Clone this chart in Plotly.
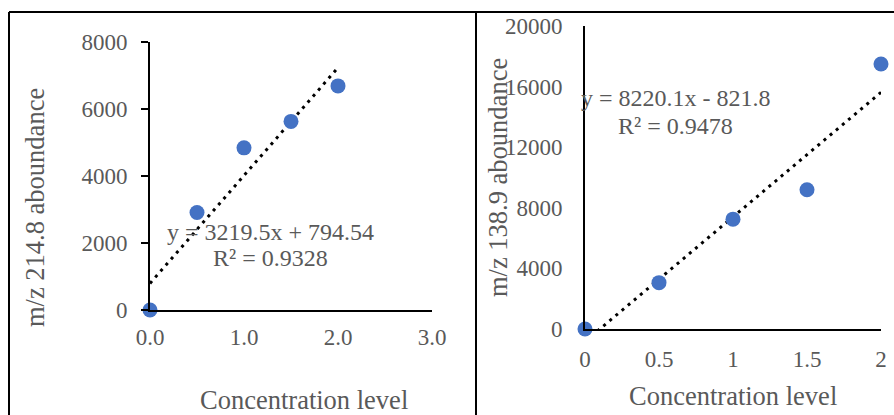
import numpy as np
import plotly.graph_objects as go

# ---- data ----
conc_left = [0.0, 0.5, 1.0, 1.5, 2.0]
abund_214 = [0, 2910, 4840, 5630, 6690]
conc_right = [0.0, 0.5, 1.0, 1.5, 2.0]
abund_138 = [0, 3060, 7250, 9190, 17490]

left_xticks = [0.0, 1.0, 2.0, 3.0]
left_xlabels = ["0.0", "1.0", "2.0", "3.0"]
left_yticks = [0, 2000, 4000, 6000, 8000]
left_ylabels = ["0", "2000", "4000", "6000", "8000"]
right_xticks = [0, 0.5, 1, 1.5, 2]
right_xlabels = ["0", "0.5", "1", "1.5", "2"]
right_yticks = [0, 4000, 8000, 12000, 16000, 20000]
right_ylabels = ["0", "4000", "8000", "12000", "16000", "20000"]

eq_left = ["y = 3219.5x + 794.54", "R² = 0.9328"]
eq_right = ["y = 8220.1x - 821.8", "R² = 0.9478"]
xtitle = "Concentration level"
ytitle_left = "m/z 214.8 aboundance"
ytitle_right = "m/z 138.9 aboundance"

W, H = 894, 415
FONT = "Liberation Serif"
GREY = "#595959"
BLUE = "#4472C4"


def px(x):
    return x / W


def py(y):
    return 1 - y / H


fig = go.Figure()

# trendlines (least squares fit of the data)
for xs, ys, xa, ya in [(conc_left, abund_214, "x", "y"), (conc_right, abund_138, "x2", "y2")]:
    m, b = np.polyfit(xs, ys, 1)
    tx = [min(xs), max(xs)]
    ty = [m * v + b for v in tx]
    fig.add_trace(go.Scatter(x=tx, y=ty, mode="lines", xaxis=xa, yaxis=ya,
                             line=dict(color="black", width=3, dash="3px,5px"),
                             showlegend=False, hoverinfo="skip"))
    fig.add_trace(go.Scatter(x=xs, y=ys, mode="markers", xaxis=xa, yaxis=ya,
                             marker=dict(color=BLUE, size=15), cliponaxis=False,
                             showlegend=False))


def tf():
    return dict(family=FONT, size=23, color=GREY)


common = dict(showgrid=False, zeroline=False, showline=True, linecolor="black",
              linewidth=2, automargin=False, tickmode="array")

fig.update_layout(
    template="none",
    font=dict(family=FONT, color=GREY),
    width=W, height=H, margin=dict(l=0, r=0, t=0, b=0, autoexpand=False),
    paper_bgcolor="white", plot_bgcolor="white",
    xaxis=dict(domain=[px(150), px(432)], range=[0, 3], tickvals=left_xticks,
               ticktext=left_xlabels, anchor="y", ticks="", ticklabelstandoff=5,
               tickfont=tf(), **common),
    yaxis=dict(domain=[py(310), py(42)], range=[0, 8000], tickvals=left_yticks,
               ticktext=left_ylabels, tickfont=tf(),
               anchor="x", ticks="outside", ticklen=7, tickwidth=2, tickcolor="black",
               ticklabelstandoff=9, **common),
    xaxis2=dict(domain=[px(585), px(881)], range=[0, 2], tickvals=right_xticks,
                ticktext=right_xlabels, anchor="y2", ticks="", ticklabelstandoff=8,
                tickfont=tf(), **common),
    yaxis2=dict(domain=[py(329), py(26)], range=[0, 20000], tickvals=right_yticks,
                ticktext=right_ylabels, anchor="x2", ticks="", ticklabelstandoff=16,
                tickfont=tf(), **common),
)

eq_font = dict(family=FONT, size=24, color=GREY)
title_font = dict(family=FONT, size=26.5, color=GREY)
annots = [
    dict(text=eq_left[0], x=px(270), y=py(232), font=eq_font),
    dict(text=eq_left[1], x=px(270), y=py(258), font=eq_font),
    dict(text=eq_right[0], x=px(676), y=py(98), font=eq_font),
    dict(text=eq_right[1], x=px(675), y=py(126), font=eq_font),
    dict(text=xtitle, x=px(304), y=py(400), font=title_font),
    dict(text=xtitle, x=px(733), y=py(396), font=title_font),
    dict(text=ytitle_left, x=px(35), y=py(208), textangle=-90, font=title_font),
    dict(text=ytitle_right, x=px(498), y=py(178), textangle=-90, font=title_font),
]
for a in annots:
    fig.add_annotation(xref="paper", yref="paper", showarrow=False,
                       xanchor="center", yanchor="middle", **a)

# outer frame lines
frame = dict(type="line", xref="paper", yref="paper", line=dict(color="black", width=2))
fig.add_shape(x0=px(9), x1=1, y0=py(12), y1=py(12), **frame)
fig.add_shape(x0=px(9), x1=px(9), y0=0, y1=py(12), **frame)
fig.add_shape(x0=px(476), x1=px(476), y0=0, y1=py(12), **frame)

fig.write_html("out.html")
